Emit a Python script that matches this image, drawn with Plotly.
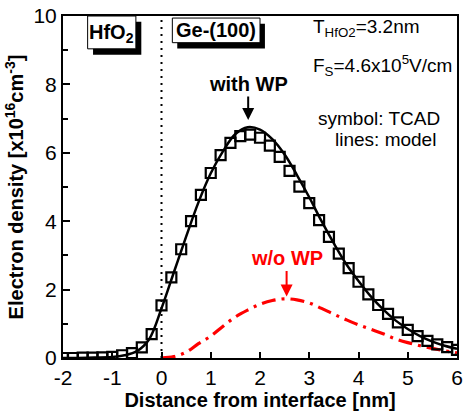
import plotly.graph_objects as go

# TCAD symbols (with WP)
tcad_x = [-2.0, -1.8, -1.6, -1.4, -1.2, -1.0, -0.8, -0.6, -0.4, -0.2, 0.0, 0.2, 0.4, 0.6, 0.8,
          1.0, 1.2, 1.4, 1.6, 1.8, 2.0, 2.2, 2.4, 2.6, 2.8, 3.0, 3.2, 3.4, 3.6, 3.8, 4.0,
          4.2, 4.4, 4.6, 4.8, 5.0, 5.2, 5.4, 5.6, 5.8, 6.0]
tcad_y = [0.0, 0.0, 0.01, 0.01, 0.02, 0.03, 0.08, 0.14, 0.31, 0.70, 1.54, 2.36, 3.18, 4.0, 4.77,
          5.41, 5.93, 6.29, 6.49, 6.53, 6.44, 6.21, 5.88, 5.47, 5.01, 4.53, 4.03, 3.54, 3.05, 2.63, 2.23,
          1.86, 1.55, 1.29, 1.04, 0.82, 0.64, 0.50, 0.40, 0.32, 0.24]

# model line (with WP)
model_x = [-2.0, -1.5, -1.0, -0.75, -0.5, -0.25, 0.0, 0.25, 0.5, 0.75, 1.0, 1.25, 1.5, 1.75, 2.0,
           2.25, 2.5, 2.75, 3.0, 3.25, 3.5, 3.75, 4.0, 4.25, 4.5, 4.75, 5.0, 5.25, 5.5, 5.75, 6.0]
model_y = [0.0, 0.01, 0.03, 0.08, 0.2, 0.55, 1.45, 2.5, 3.55, 4.55, 5.4, 6.05, 6.55, 6.75, 6.68,
           6.4, 5.95, 5.35, 4.7, 4.0, 3.35, 2.75, 2.25, 1.8, 1.42, 1.1, 0.85, 0.64, 0.48, 0.36, 0.27]

# model line (w/o WP)
nowp_x = [0.0, 0.25, 0.5, 0.75, 1.0, 1.25, 1.5, 1.75, 2.0, 2.25, 2.5, 2.75, 3.0, 3.25, 3.5,
          3.75, 4.0, 4.25, 4.5, 4.75, 5.0, 5.25, 5.5, 5.75, 6.0]
nowp_y = [0.0, 0.04, 0.17, 0.42, 0.64, 0.93, 1.2, 1.4, 1.57, 1.68, 1.73, 1.70, 1.61, 1.45, 1.28,
          1.12, 0.97, 0.84, 0.71, 0.56, 0.45, 0.36, 0.28, 0.21, 0.15]

x_ticks = [-2, -1, 0, 1, 2, 3, 4, 5, 6]
y_ticks = [0, 2, 4, 6, 8, 10]

FONT = "Liberation Sans, Arial, sans-serif"

fig = go.Figure()
fig.add_trace(go.Scatter(x=nowp_x, y=nowp_y, mode="lines", line_shape="spline",
                         line=dict(color="#ff0000", width=3.2, dash="14px,6px,3px,6px"),
                         showlegend=False))
fig.add_trace(go.Scatter(x=model_x, y=model_y, mode="lines", line_shape="spline",
                         line=dict(color="black", width=2.5), showlegend=False))
fig.add_trace(go.Scatter(x=tcad_x, y=tcad_y, mode="markers",
                         marker=dict(symbol="square-open", size=10, color="black",
                                     line=dict(color="black", width=2.2)),
                         showlegend=False))

# interface dotted line
fig.add_shape(type="line", x0=0, x1=0, y0=0, y1=10, xref="x", yref="y",
              line=dict(color="black", width=2, dash="2px,5px"))

# label boxes with shadows
def shadow_box(x0, x1, y0, y1, dx, dy, text, tx, ty):
    fig.add_shape(type="rect", x0=x0 + dx, x1=x1 + dx, y0=y0 - dy, y1=y1 - dy,
                  xref="x", yref="y", fillcolor="black", line=dict(width=0))
    fig.add_shape(type="rect", x0=x0, x1=x1, y0=y0, y1=y1, xref="x", yref="y",
                  fillcolor="white", line=dict(color="black", width=1))
    fig.add_annotation(x=tx, y=ty, text=text, showarrow=False,
                       font=dict(family=FONT, size=20, color="black"))

shadow_box(-1.5, -0.52, 9.04, 10.0, 0.11, 0.17, "<b>HfO<sub>2</sub></b>", -1.02, 9.5)
shadow_box(0.22, 2.0, 9.22, 9.94, 0.1, 0.17, "<b>Ge-(100)</b>", 1.11, 9.58)

fig.add_annotation(x=1.76, y=6.96, ax=0, ay=-36, text="<b>with WP</b>", showarrow=True,
                   arrowhead=2, arrowsize=1.2, arrowwidth=2, arrowcolor="black",
                   font=dict(family=FONT, size=20, color="black"))
fig.add_annotation(x=2.54, y=1.80, ax=0, ay=-38, text="<b>w/o WP</b>", showarrow=True,
                   arrowhead=2, arrowsize=1.2, arrowwidth=2, arrowcolor="#ff0000",
                   font=dict(family=FONT, size=20, color="#ff0000"))

fig.add_annotation(x=3.04, y=9.64, text="T<sub>HfO2</sub>=3.2nm", showarrow=False,
                   xanchor="left", font=dict(family=FONT, size=19, color="black"))
fig.add_annotation(x=3.04, y=8.55, text="F<sub>S</sub>=4.6x10<sup>5</sup>V/cm", showarrow=False,
                   xanchor="left", font=dict(family=FONT, size=19, color="black"))
fig.add_annotation(x=5.7, y=7.0, text="symbol: TCAD", showarrow=False,
                   xanchor="right", font=dict(family=FONT, size=19, color="black"))
fig.add_annotation(x=5.62, y=6.4, text="lines: model", showarrow=False,
                   xanchor="right", font=dict(family=FONT, size=19, color="black"))

fig.update_xaxes(range=[-2, 6], tickvals=x_ticks, ticktext=[str(v) for v in x_ticks],
                 ticks="inside", ticklen=6, tickwidth=1.5, tickcolor="black",
                 showline=True, linecolor="black", linewidth=2, mirror=True,
                 showgrid=False, zeroline=False,
                 tickfont=dict(family=FONT, size=21, color="black"),
                 title=dict(text="<b>Distance from interface [nm]</b>", standoff=2,
                            font=dict(family=FONT, size=20, color="black")))
fig.update_yaxes(range=[0, 10], tickvals=y_ticks, ticktext=[str(v) for v in y_ticks],
                 ticks="inside", ticklen=7, tickwidth=1.5, tickcolor="black",
                 minor=dict(tickvals=[1, 3, 5, 7, 9], ticks="inside", ticklen=5,
                            tickwidth=1.5, tickcolor="black"),
                 showline=True, linecolor="black", linewidth=2, mirror=True,
                 showgrid=False, zeroline=False,
                 tickfont=dict(family=FONT, size=21, color="black"),
                 title=dict(text="<b>Electron density [x10<sup>16</sup>cm<sup>-3</sup>]</b>", standoff=4,
                            font=dict(family=FONT, size=20, color="black")))

fig.update_layout(width=467, height=414, margin=dict(l=63, r=4, t=13, b=56),
                  plot_bgcolor="white", paper_bgcolor="white")

fig.write_html("out.html")
